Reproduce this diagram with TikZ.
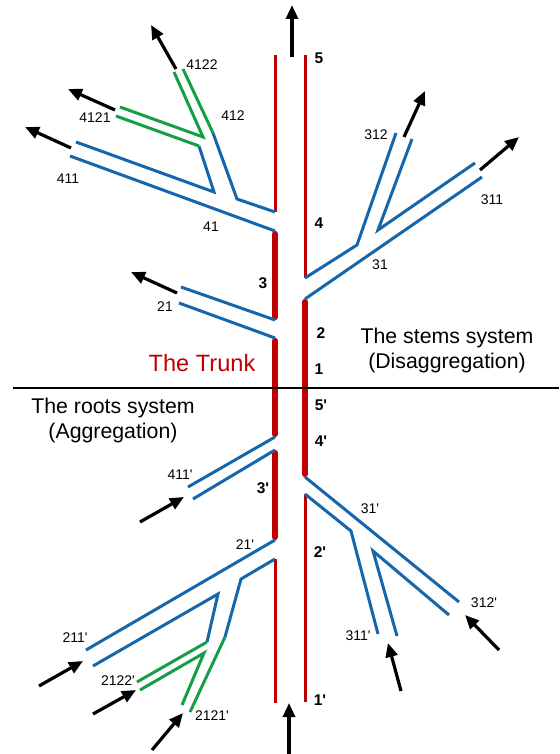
\documentclass[tikz,border=0pt]{standalone}
\usepackage{fontspec}
\setmainfont{Liberation Sans}
\usetikzlibrary{arrows.meta}
\definecolor{trunkred}{RGB}{192,0,0}
\definecolor{rootblue}{RGB}{22,102,172}
\definecolor{leafgreen}{RGB}{20,158,70}
\newcommand{\pr}{\textquotesingle}

\begin{document}
\begin{tikzpicture}[x=1pt,y=-1pt,
  thin trunk/.style={trunkred,line width=3pt},
  thick trunk/.style={trunkred,line width=6.5pt,line cap=round},
  branch/.style={rootblue,line width=3pt},
  twig/.style={leafgreen,line width=3pt},
  flow/.style={line width=3.2pt,-{Triangle[length=14pt,width=12pt]}},
  num/.style={font=\fontsize{14}{16}\selectfont},
  seg/.style={font=\bfseries\fontsize{15.5}{17}\selectfont},
  title/.style={font=\fontsize{21.3}{25}\selectfont,align=center}]
\useasboundingbox (0,0) rectangle (559,754);

% trunk
\draw[thin trunk] (275,55) -- (275,212);
\draw[thick trunk] (275,234) -- (275,317);
\draw[thick trunk] (275,341) -- (275,434);
\draw[thick trunk] (275,453) -- (275,537);
\draw[thin trunk] (275,559) -- (275,703);
\draw[thin trunk] (305,55) -- (305,278);
\draw[thick trunk] (305,302) -- (305,474);
\draw[thin trunk] (305,494) -- (305,702);

\draw[line width=1.2pt] (13,388) -- (559,388);

% stems
\draw[branch] (275,231) -- (70,156);
\draw[branch] (76,142) -- (214,192) -- (199,146);
\draw[twig] (199,146) -- (116,116);
\draw[twig] (120,107) -- (203,137) -- (174,72);
\draw[branch] (275,212) -- (237,199) -- (213,133);
\draw[twig] (213,133) -- (183,69);

\draw[branch] (305,299) -- (482,177);
\draw[branch] (305,278) -- (357,245) -- (396,133);
\draw[branch] (475,163) -- (378,230) -- (412,139);

\draw[branch] (275,320) -- (181,287);
\draw[branch] (275,338) -- (179,303);

% roots
\draw[branch] (275,437) -- (188,487);
\draw[branch] (275,450) -- (193,499);

\draw[branch] (275,540) -- (86,650);
\draw[branch] (275,559) -- (241,579) -- (225,637);
\draw[twig] (225,637) -- (190,712);
\draw[branch] (93,666) -- (218,594) -- (207,642);
\draw[twig] (207,642) -- (137,682);
\draw[twig] (140,690) -- (204,653) -- (182,705);

\draw[branch] (305,477) -- (459,602);
\draw[branch] (305,494) -- (351,531) -- (378,634);
\draw[branch] (397,636) -- (373,551) -- (449,615);

% flows
\draw[flow] (292,57) -- (292,5);
\draw[flow] (289,754) -- (289,703);
\draw[flow] (176,69) -- (151,25);
\draw[flow] (115,110) -- (68,89);
\draw[flow] (71,148) -- (25,127);
\draw[flow] (404,137) -- (425,91);
\draw[flow] (480,170) -- (519,137);
\draw[flow] (177,293) -- (131,272);
\draw[flow] (140,522) -- (184,497);
\draw[flow] (39,686) -- (83,661);
\draw[flow] (93,714) -- (136,690);
\draw[flow] (152,750) -- (183,713);
\draw[flow] (401,691) -- (388,643);
\draw[flow] (499,650) -- (465,615);

% labels
\node[num] (n4122) at (202,65) {4122};
\node[num] (n4121) at (95,118) {4121};
\node[num] (n412) at (233,116) {412};
\node[num] (n411) at (68,179) {411};
\node[num] (n41) at (211,227) {41};
\node[num] (n312) at (376,135) {312};
\node[num] (n311) at (492,200) {311};
\node[num] (n31) at (380,265) {31};
\node[num] (n21) at (165,307) {21};
\node[num] (r411) at (180,475) {411\pr};
\node[num] (r21) at (245,545) {21\pr};
\node[num] (r211) at (75,638) {211\pr};
\node[num] (r2122) at (118,681) {2122\pr};
\node[num] (r2121) at (212,716) {2121\pr};
\node[num] (r31) at (370,509) {31\pr};
\node[num] (r311) at (358,636) {311\pr};
\node[num] (r312) at (484,603) {312\pr};

\node[seg] (s5) at (319,58) {5};
\node[seg] (s4) at (319,223) {4};
\node[seg] (s3) at (263,283) {3};
\node[seg] (s2) at (321,333) {2};
\node[seg] (s1) at (319,369) {1};
\node[seg] (t5) at (321,405) {5\pr};
\node[seg] (t4) at (321,441) {4\pr};
\node[seg] (t3) at (263,488) {3\pr};
\node[seg] (t2) at (320,552) {2\pr};
\node[seg] (t1) at (320,700) {1\pr};

\node[font=\fontsize{23.6}{27}\selectfont,text=trunkred] (trunk) at (202,363) {The Trunk};
\node[title] (stems) at (447,350) {The stems system\\(Disaggregation)};
\node[title] (roots) at (113,420) {The roots system\\(Aggregation)};
\end{tikzpicture}
\end{document}
